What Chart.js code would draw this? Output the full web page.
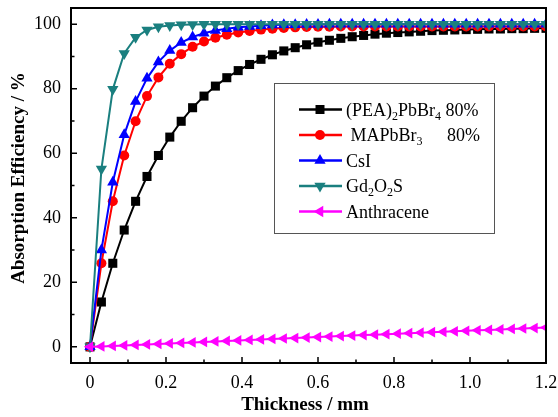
<!DOCTYPE html>
<html>
<head>
<meta charset="utf-8">
<script src="https://cdn.jsdelivr.net/npm/chart.js@4.4.0/dist/chart.umd.min.js"></script>
<style>
    html, body { margin: 0; padding: 0; background: #ffffff; }
    #wrap { width: 558px; height: 417px; }
</style>
</head>
<body>
<div id="wrap"><canvas id="absorptionChart" width="558" height="417"></canvas></div>
<script>
// thickness (mm) and absorption efficiency (%)
const thickness = [0, 0.03, 0.06, 0.09, 0.12, 0.15, 0.18, 0.21, 0.24, 0.27, 0.30, 0.33, 0.36, 0.39, 0.42, 0.45, 0.48, 0.51, 0.54, 0.57, 0.60,
    0.63, 0.66, 0.69, 0.72, 0.75, 0.78, 0.81, 0.84, 0.87, 0.90, 0.93, 0.96, 0.99, 1.02, 1.05, 1.08, 1.11, 1.14, 1.17, 1.20];

const peaPbBr4 = [0, 13.9, 25.9, 36.2, 45.1, 52.8, 59.3, 65.0, 69.9, 74.1, 77.7, 80.8, 83.4, 85.6, 87.5, 89.1, 90.5, 91.7, 92.7, 93.6, 94.4,
    95.0, 95.6, 96.1, 96.5, 96.9, 97.2, 97.4, 97.6, 97.8, 98.0, 98.1, 98.2, 98.3, 98.4, 98.5, 98.5, 98.6, 98.6, 98.7, 98.7];
const maPbBr3 = [0, 25.9, 45.1, 59.3, 69.9, 77.7, 83.5, 87.7, 90.7, 93.0, 94.6, 95.8, 96.7, 97.4, 97.9, 98.3, 98.6, 98.8, 99.0, 99.1, 99.2,
    99.2, 99.3, 99.3, 99.3, 99.3, 99.3, 99.3, 99.3, 99.3, 99.3, 99.3, 99.3, 99.3, 99.3, 99.3, 99.3, 99.3, 99.3, 99.3, 99.3];
const csI = [0, 30.0, 51.0, 65.7, 76.0, 83.2, 88.3, 91.8, 94.3, 96.0, 97.2, 98.0, 98.6, 99.0, 99.3, 99.5, 99.7, 99.8, 99.8, 99.9, 99.9,
    100, 100, 100, 100, 100, 100, 100, 100, 100, 100, 100, 100, 100, 100, 100, 100, 100, 100, 100, 100];
const gd2o2s = [0, 55.1, 79.8, 90.9, 95.9, 98.2, 99.2, 99.6, 99.8, 99.9, 100, 100, 100, 100, 100, 100, 100, 100, 100, 100, 100,
    100, 100, 100, 100, 100, 100, 100, 100, 100, 100, 100, 100, 100, 100, 100, 100, 100, 100, 100, 100];
const anthracene = [0, 0.15, 0.3, 0.46, 0.61, 0.77, 0.92, 1.07, 1.23, 1.38, 1.53, 1.68, 1.84, 1.99, 2.14, 2.29, 2.44, 2.59, 2.74, 2.89, 3.04,
    3.19, 3.34, 3.49, 3.64, 3.79, 3.94, 4.08, 4.23, 4.38, 4.53, 4.67, 4.82, 4.97, 5.11, 5.26, 5.40, 5.55, 5.69, 5.84, 5.98];

const xTicks = [0, 0.2, 0.4, 0.6, 0.8, 1.0, 1.2];
const xMinorTicks = [0.1, 0.3, 0.5, 0.7, 0.9, 1.1];
const yTicks = [0, 20, 40, 60, 80, 100];
const yMinorTicks = [10, 30, 50, 70, 90];

const SERIF = '"Liberation Serif", "Times New Roman", "DejaVu Serif", serif';

function toPoints(values) {
    return values.map((v, i) => ({ x: thickness[i], y: v }));
}

// legend entries, with subscripts as separate segments
const legendRows = [
    { color: '#000000', marker: 'square', parts: [['(PEA)'], ['2', 'sub'], ['PbBr'], ['4', 'sub'], [' 80%']] },
    { color: '#ff0000', marker: 'circle', parts: [[' MAPbBr'], ['3', 'sub'], ['80%', 'at', 447]] },
    { color: '#0000ff', marker: 'up', parts: [['CsI']] },
    { color: '#1a7f7f', marker: 'down', parts: [['Gd'], ['2', 'sub'], ['O'], ['2', 'sub'], ['S']] },
    { color: '#ff00ff', marker: 'left', parts: [['Anthracene']] }
];

function drawMarker(ctx, kind, x, y, color) {
    ctx.save();
    ctx.fillStyle = color;
    ctx.beginPath();
    if (kind === 'square') {
        ctx.rect(x - 4.5, y - 4.5, 9, 9);
    } else if (kind === 'circle') {
        ctx.arc(x, y, 5, 0, Math.PI * 2);
    } else {
        const r = 6.5;
        const rot = { up: 0, down: Math.PI, left: -Math.PI / 2 }[kind];
        for (let k = 0; k < 3; k++) {
            const a = rot + k * 2 * Math.PI / 3;
            const px = x + r * Math.sin(a);
            const py = y - r * Math.cos(a);
            if (k === 0) ctx.moveTo(px, py); else ctx.lineTo(px, py);
        }
        ctx.closePath();
    }
    ctx.fill();
    ctx.restore();
}

const framePlugin = {
    id: 'framePlugin',
    afterDraw(chart) {
        const ctx = chart.ctx;
        const area = chart.chartArea;
        const xs = chart.scales.x;
        const ys = chart.scales.y;

        ctx.save();
        ctx.strokeStyle = '#000000';

        // inward ticks
        ctx.lineWidth = 1.5;
        ctx.beginPath();
        xTicks.forEach(v => {
            const px = xs.getPixelForValue(v);
            ctx.moveTo(px, area.bottom); ctx.lineTo(px, area.bottom - 6);
        });
        xMinorTicks.forEach(v => {
            const px = xs.getPixelForValue(v);
            ctx.moveTo(px, area.bottom); ctx.lineTo(px, area.bottom - 3.5);
        });
        yTicks.forEach(v => {
            const py = ys.getPixelForValue(v);
            ctx.moveTo(area.left, py); ctx.lineTo(area.left + 6, py);
        });
        yMinorTicks.forEach(v => {
            const py = ys.getPixelForValue(v);
            ctx.moveTo(area.left, py); ctx.lineTo(area.left + 3.5, py);
        });
        ctx.stroke();

        // box around the plot
        ctx.lineWidth = 2;
        ctx.strokeRect(area.left, area.top, area.right - area.left, area.bottom - area.top);

        // axis titles
        ctx.fillStyle = '#000000';
        ctx.font = 'bold 19px ' + SERIF;
        ctx.textAlign = 'center';
        ctx.textBaseline = 'middle';
        ctx.fillText('Thickness / mm', 305, 405);
        ctx.translate(19, 178);
        ctx.rotate(-Math.PI / 2);
        ctx.fillText('Absorption Efficiency / %', 0, 0);
        ctx.restore();

        // legend box
        ctx.save();
        ctx.fillStyle = '#ffffff';
        ctx.fillRect(274, 83, 220, 150);
        ctx.strokeStyle = '#555555';
        ctx.lineWidth = 1;
        ctx.strokeRect(274.5, 83.5, 220, 150);

        legendRows.forEach((row, i) => {
            const y = 109.5 + i * 25.5;
            ctx.strokeStyle = row.color;
            ctx.lineWidth = 2.5;
            ctx.beginPath();
            ctx.moveTo(299, y); ctx.lineTo(342, y);
            ctx.stroke();
            drawMarker(ctx, row.marker, 320, y, row.color);

            let tx = 346;
            ctx.fillStyle = '#000000';
            ctx.textAlign = 'left';
            ctx.textBaseline = 'alphabetic';
            row.parts.forEach(part => {
                const [text, mode, at] = part;
                if (mode === 'at') tx = at;
                if (mode === 'sub') {
                    ctx.font = '12px ' + SERIF;
                    ctx.fillText(text, tx, y + 10);
                } else {
                    ctx.font = '18px ' + SERIF;
                    ctx.fillText(text, tx, y + 6);
                }
                tx += ctx.measureText(text).width;
            });
        });
        ctx.restore();
    }
};

function makeSet(label, values, color, style, rotation, radius, order) {
    return {
        label: label,
        data: toPoints(values),
        borderColor: color,
        backgroundColor: color,
        borderWidth: 2,
        pointStyle: style,
        rotation: rotation,
        pointRadius: radius,
        pointHoverRadius: radius,
        pointBorderWidth: 0,
        pointBackgroundColor: color,
        tension: 0,
        fill: false,
        order: order
    };
}

const context = document.getElementById('absorptionChart').getContext('2d');
const absorptionChart = new Chart(context, {
    type: 'line',
    data: {
        datasets: [
            makeSet('(PEA)2PbBr4 80%', peaPbBr4, '#000000', 'rect', 0, 6.4, 4),
            makeSet('MAPbBr3 80%', maPbBr3, '#ff0000', 'circle', 0, 5, 3),
            makeSet('CsI', csI, '#0000ff', 'triangle', 0, 6.5, 2),
            makeSet('Gd2O2S', gd2o2s, '#1a7f7f', 'triangle', 180, 6.5, 1),
            makeSet('Anthracene', anthracene, '#ff00ff', 'triangle', 270, 6.2, 0)
        ]
    },
    options: {
        responsive: false,
        animation: false,
        events: [],
        layout: { padding: { top: 8, right: 12, left: 0, bottom: 0 } },
        plugins: {
            legend: { display: false },
            tooltip: { enabled: false }
        },
        scales: {
            x: {
                type: 'linear',
                min: -0.05,
                max: 1.2,
                grid: { display: false, drawTicks: false },
                border: { display: false },
                afterBuildTicks: (scale) => { scale.ticks = xTicks.map(v => ({ value: v })); },
                afterFit: (scale) => {
                    scale.height = 54;
                    scale.paddingLeft = 0;
                    scale.paddingRight = 0;
                },
                ticks: {
                    padding: 9,
                    color: '#000000',
                    font: { family: SERIF, size: 18 },
                    callback: (v) => v === 0 ? '0' : Number(v).toFixed(1)
                }
            },
            y: {
                min: -5,
                max: 105,
                grid: { display: false, drawTicks: false },
                border: { display: false },
                afterBuildTicks: (scale) => { scale.ticks = yTicks.map(v => ({ value: v })); },
                afterFit: (scale) => {
                    scale.width = 71;
                    scale.paddingTop = 0;
                    scale.paddingBottom = 0;
                },
                ticks: {
                    padding: 10,
                    color: '#000000',
                    font: { family: SERIF, size: 18 },
                    callback: (v) => String(v)
                }
            }
        }
    },
    plugins: [framePlugin]
});
</script>
</body>
</html>
